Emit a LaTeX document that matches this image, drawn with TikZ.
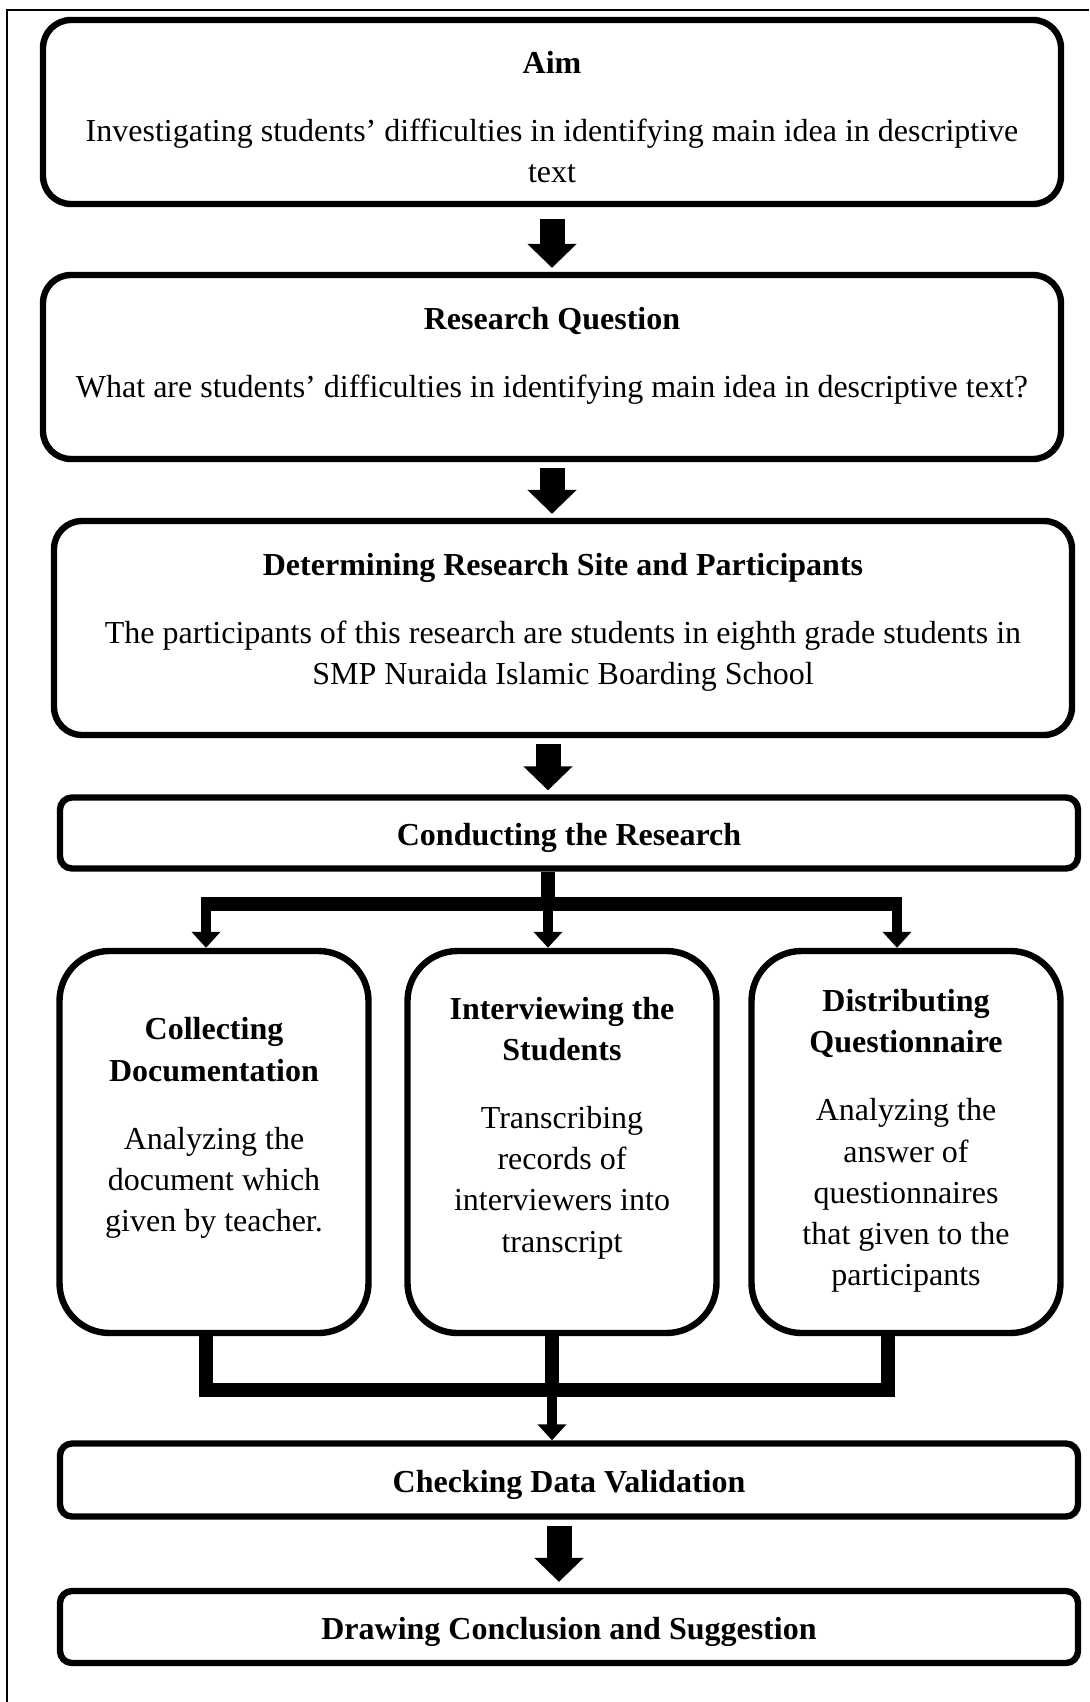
\documentclass[tikz,border=0pt]{standalone}
\usepackage{fontspec}
\setmainfont{Liberation Serif}
\usetikzlibrary{arrows.meta}
\tikzset{
  stagebox/.style={draw,line width=3.2pt,rounded corners=14pt,minimum width=509pt,inner sep=0pt},
  stagetext/.style={align=center,inner sep=0pt,font=\fontsize{16}{20.6}\selectfont},
  methodbox/.style={draw,line width=3.2pt,rounded corners=25pt,minimum width=154.5pt,minimum height=191pt,inner sep=0pt},
  stepbox/.style={draw,line width=3.2pt,rounded corners=6pt,minimum width=509pt,inner sep=0pt,text height=12pt,text depth=0pt,font=\fontsize{16}{20.6}\selectfont\bfseries},
  bigarrow/.style={line width=12.5pt,-{Triangle[length=12pt,width=24pt]}},
  link/.style={line width=7pt},
  linkarrow/.style={line width=5pt,-{Triangle[length=8pt,width=14pt]}},
  frame/.style={line width=1pt},
}
\newcommand{\titlegap}{\\[13.4pt]}

\begin{document}
\begin{tikzpicture}[x=0.5pt,y=-0.5pt]
  \useasboundingbox (0,0) rectangle (1089,1702);
  \draw[frame] (7,1702) -- (7,10) -- (1089,10);

  % main stages
  \node[stagebox,minimum height=92pt] (aim) at (552,112) {};
  \node[stagetext] (aimtext) at (552,117) {\textbf{Aim}\titlegap Investigating students’ difficulties in identifying main idea in descriptive\\text};
  \node[stagebox,minimum height=92pt] (rq) at (552,367) {};
  \node[stagetext] (rqtext) at (552,356) {\textbf{Research Question}\titlegap What are students’ difficulties in identifying main idea in descriptive text?};
  \node[stagebox,minimum height=107pt] (site) at (563,628) {};
  \node[stagetext] (sitetext) at (563,622) {\textbf{Determining Research Site and Participants}\titlegap The participants of this research are students in eighth grade students in\\SMP Nuraida Islamic Boarding School};
  \node[stepbox,minimum height=35.5pt] (cond) at (569,833) {Conducting the Research};

  \draw[bigarrow] ([yshift=-6pt]aim.south) -- ([yshift=2pt]aim.south |- rq.north);
  \draw[bigarrow] ([yshift=-3pt]rq.south) -- ([yshift=2pt]rq.south |- site.north);
  \draw[bigarrow] ([xshift=-7.5pt,yshift=-3pt]site.south) -- ([xshift=-7.5pt,yshift=2pt]site.south |- cond.north);

  % three methods
  \node[methodbox] (doc) at (214,1142) {};
  \node[stagetext] (doctext) at (214,1128) {\textbf{Collecting}\\\textbf{Documentation}\titlegap Analyzing the\\document which\\given by teacher.};
  \node[methodbox] (inter) at (562,1142) {};
  \node[stagetext] (intertext) at (562,1128) {\textbf{Interviewing the}\\\textbf{Students}\titlegap Transcribing\\records of\\interviewers into\\transcript};
  \node[methodbox] (ques) at (906,1142) {};
  \node[stagetext] (questext) at (906,1141) {\textbf{Distributing}\\\textbf{Questionnaire}\titlegap Analyzing the\\answer of\\questionnaires\\that given to the\\participants};

  % fork
  \coordinate (forkL) at (206,904);
  \coordinate (forkM) at (548,904);
  \coordinate (forkR) at (897,904);
  \draw[link] (cond.south -| forkM) -- (forkM);
  \draw[link] ([xshift=-2.5pt]forkL) -- ([xshift=2.5pt]forkR);
  \draw[linkarrow] (forkL) -- (forkL |- doc.north);
  \draw[linkarrow] (forkM) -- (forkM |- inter.north);
  \draw[linkarrow] (forkR) -- (forkR |- ques.north);

  % join
  \coordinate (joinL) at (206,1390);
  \coordinate (joinM) at (552,1390);
  \coordinate (joinR) at (888,1390);
  \draw[link] (doc.south -| joinL) -- (joinL);
  \draw[link] (inter.south -| joinM) -- (joinM);
  \draw[link] (ques.south -| joinR) -- (joinR);
  \draw[link] ([xshift=-3.5pt]joinL) -- ([xshift=3.5pt]joinR);

  \node[stepbox,minimum height=36.5pt] (check) at (569,1480) {Checking Data Validation};
  \node[stepbox,minimum height=36pt] (concl) at (569,1627) {Drawing Conclusion and Suggestion};

  \draw[linkarrow] (joinM) -- (joinM |- check.north);
  \draw[bigarrow] ([xshift=-5pt,yshift=-3pt]check.south) -- ([xshift=-5pt,yshift=3pt]check.south |- concl.north);
\end{tikzpicture}
\end{document}
